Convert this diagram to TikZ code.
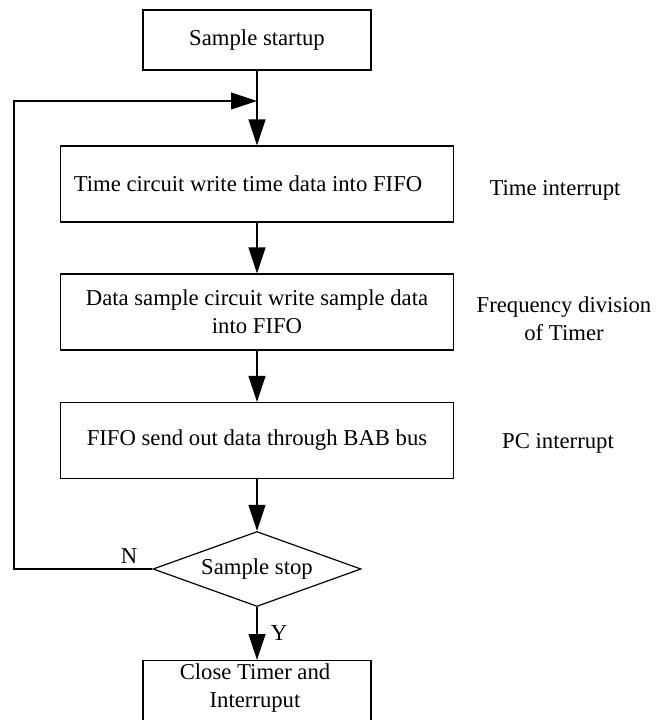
\documentclass[tikz,border=0pt]{standalone}
\usepackage{fontspec}
\setmainfont{Liberation Serif}
\usetikzlibrary{arrows.meta,shapes.geometric}
\begin{document}
\begin{tikzpicture}[x=1pt,y=-1pt,
  every node/.style={font=\fontsize{22.7}{28}\selectfont},
  box/.style={draw, line width=1.2pt, inner sep=0pt, align=center},
  decision/.style={draw, diamond, aspect=2.77, line width=1.2pt, inner sep=0pt, minimum width=208pt, minimum height=75pt},
  plain/.style={inner sep=0pt, align=center},
  arr/.style={line width=1.2pt, -{Triangle[length=26pt,width=17pt]}}]
\useasboundingbox (0,0) rectangle (656,720);
% boxes
\node[box, minimum width=228pt, minimum height=60pt] (b1) at (257,40) {Sample startup};
\node[box, minimum width=393pt, minimum height=76pt] (b2) at (257,184) {Time circuit write time data into FIFO\hspace*{18pt}};
\node[box, minimum width=393pt, minimum height=76pt] (b3) at (257,312) {Data sample circuit write sample data\\into FIFO};
\node[box, minimum width=393pt, minimum height=76pt] (b4) at (257,440.5) {FIFO send out data through BAB bus};
\node[decision] (d) at (257,569) {Sample stop};
\node[box, minimum width=228pt, minimum height=80pt, anchor=north] (b5) at (257,660) {};
\node[plain] (b5t) at (255,688) {Close Timer and\\Interruput};
% side labels
\node[plain] (t1) at (555,190) {Time interrupt};
\node[plain] (t2) at (564,319) {Frequency division\\of Timer};
\node[plain] (t3) at (558,443) {PC interrupt};
% branch labels
\node[plain] (n) at (129,556) {N};
\node[plain] (y) at (279,633) {Y};
% connectors
\coordinate (join) at (257,101);
\coordinate (corner) at (14,569);
\draw[arr] (b1.south) -- (b2.north);
\draw[arr] (b2.south) -- (b3.north);
\draw[arr] (b3.south) -- (b4.north);
\draw[arr] (b4.south) -- (d.north);
\draw[arr] (d.south) -- (b5.north);
\draw[arr] (d.west) -- (corner) |- (join);
\end{tikzpicture}
\end{document}
